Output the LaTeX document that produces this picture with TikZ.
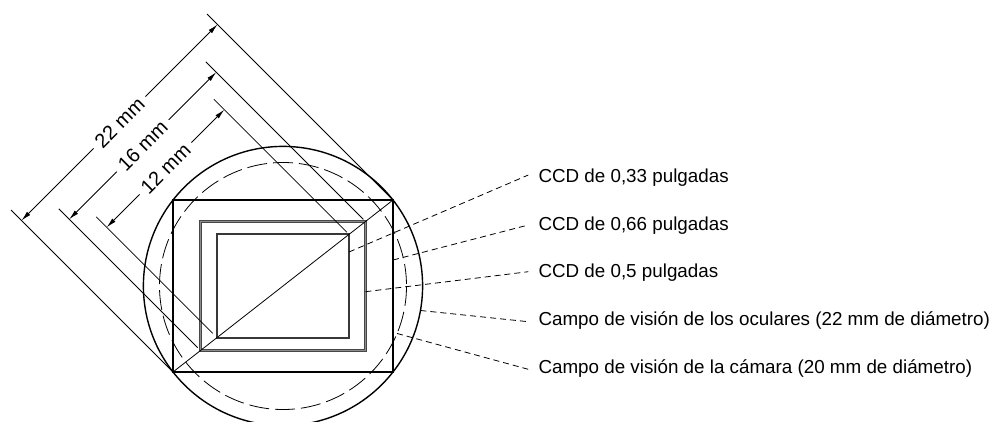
\documentclass[tikz,border=0pt]{standalone}
\usepackage{fontspec}
\setmainfont{Liberation Sans}
\usetikzlibrary{arrows.meta,calc}
\begin{document}
\begin{tikzpicture}[x=1pt,y=-1pt,
  thinline/.style={line width=0.8pt, black},
  eyecircle/.style={line width=1.4pt, black},
  camcircle/.style={line width=0.8pt, black, dash pattern=on 20pt off 6pt},
  rectA/.style={line width=1.9pt, black},
  rectB/.style={line width=0.9pt, draw=black!72, double=black!45, double distance=0.9pt},
  rectC/.style={line width=1.9pt, black!78},
  leader/.style={line width=0.8pt, black, dash pattern=on 6pt off 4pt},
  dimarrow/.style={line width=0.8pt, black, -{Latex[length=10pt,width=4.6pt]}},
  dimlabel/.style={rotate=45, inner xsep=6pt, inner ysep=0pt, font=\fontsize{20}{22}\selectfont},
  lbl/.style={anchor=base west, inner sep=0pt, font=\fontsize{18.8}{22}\selectfont}]
\useasboundingbox (0,0) rectangle (993,421);
\clip (0,0) rectangle (993,421);
\coordinate (C) at (283,286);
% circles
\draw[eyecircle] (C) circle[radius=139.6];
\draw[camcircle] (C) circle[radius=123.5];
% rectangle corners
\coordinate (oBL) at (173,372);     \coordinate (oTR) at (393,200);
\coordinate (mBL) at (200.5,350.5); \coordinate (mTR) at (365.5,221.5);
\coordinate (iBL) at (217,337.6);   \coordinate (iTR) at (349,234.4);
\draw[rectA] (oBL) rectangle (oTR);
\draw[rectB] (mBL) rectangle (mTR);
\draw[rectC] (iBL) rectangle (iTR);
\draw[thinline] (oBL) -- (oTR);
% extension lines
\coordinate (x22a) at (11,210);      \coordinate (x22b) at (207,14);
\coordinate (x16a) at (58.75,208.75); \coordinate (x16b) at (205.75,61.75);
\coordinate (x12a) at (96.2,216.8);  \coordinate (x12b) at (213.8,99.2);
\draw[thinline] (oBL) -- (x22a);
\draw[thinline] (oTR) -- (x22b);
\draw[thinline, shorten <=4pt] (mBL) -- (x16a);
\draw[thinline, shorten <=3pt] (mTR) -- (x16b);
\draw[thinline, shorten <=6pt] (iBL) -- (x12a);
\draw[thinline, shorten <=3pt] (iTR) -- (x12b);
% dimension lines
\coordinate (a22a) at (21.5,220.5);   \coordinate (a22b) at (217.5,24.5);
\coordinate (a16a) at (69.25,219.25); \coordinate (a16b) at (216.25,72.25);
\coordinate (a12a) at (106.7,227.3);  \coordinate (a12b) at (224.3,109.7);
\node[dimlabel] (t22) at (119.5,122.5) {22 mm};
\node[dimlabel] (t16) at (142.75,145.75) {16 mm};
\node[dimlabel] (t12) at (165.5,168.5) {12 mm};
\draw[dimarrow] (t22) -- (a22a);
\draw[dimarrow] (t22) -- (a22b);
\draw[dimarrow] (t16) -- (a16a);
\draw[dimarrow] (t16) -- (a16b);
\draw[dimarrow] (t12) -- (a12a);
\draw[dimarrow] (t12) -- (a12b);
% labels
\node[lbl] (l1) at (538.3,182.3) {CCD de 0,33 pulgadas};
\node[lbl] (l2) at (538.3,230) {CCD de 0,66 pulgadas};
\node[lbl] (l3) at (538.3,277.3) {CCD de 0,5 pulgadas};
\node[lbl] (l4) at (538.3,325) {Campo de visión de los oculares (22 mm de diámetro)};
\node[lbl] (l5) at (538.3,373.3) {Campo de visión de la cámara (20 mm de diámetro)};
% leaders
\coordinate (s1) at (349,252);
\coordinate (s2) at (393,260);
\coordinate (s3) at (365.5,291.7);
\coordinate (s4) at ($(C)+(10.1:139.6)$);
\coordinate (s5) at ($(C)+(22.6:123.5)$);
\coordinate (f1) at (528.3,175);
\coordinate (f2) at (528.3,225);
\coordinate (f3) at (528.3,271.7);
\coordinate (f4) at (528.3,321.7);
\coordinate (f5) at (528.3,369.3);
\draw[leader] (s1) -- (f1);
\draw[leader] (s2) -- (f2);
\draw[leader] (s3) -- (f3);
\draw[leader] (s4) -- (f4);
\draw[leader] (s5) -- (f5);
\end{tikzpicture}
\end{document}
